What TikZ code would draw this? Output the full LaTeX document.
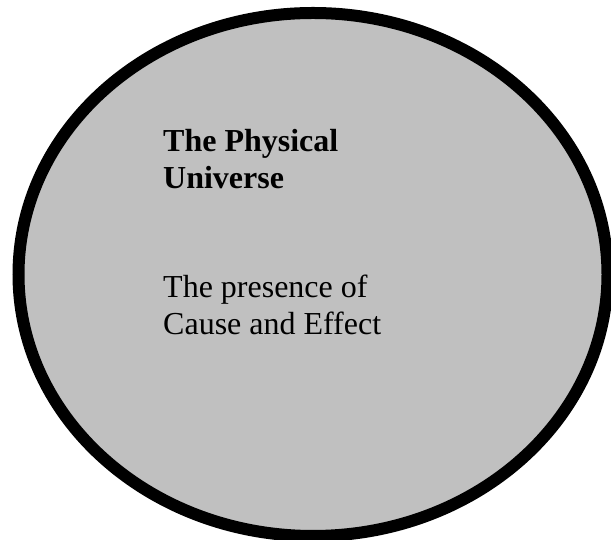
\documentclass[tikz,border=0pt]{standalone}
\usepackage{fontspec}
\setmainfont{Liberation Serif}
\definecolor{fillgray}{RGB}{192,192,192}
\begin{document}
\begin{tikzpicture}[x=1pt,y=1pt,
  blob/.style={draw=black, line width=12pt, fill=fillgray},
  txt/.style={anchor=base west, inner sep=0pt, font=\fontsize{32}{36.5}\selectfont},
  btxt/.style={txt, font=\fontsize{32}{36.5}\selectfont\bfseries}]
\useasboundingbox (0,0) rectangle (611,540);
\coordinate (centre) at (313,265.5);
\draw[blob] (centre) ellipse [x radius=294.5, y radius=261.5];
\node[btxt] (t1) at (163,388) {The Physical};
\node[btxt] (t2) at (163,351.5) {Universe};
\node[txt] (t3) at (163,242) {The presence of};
\node[txt] (t4) at (163,205.5) {Cause and Effect};
\end{tikzpicture}
\end{document}
